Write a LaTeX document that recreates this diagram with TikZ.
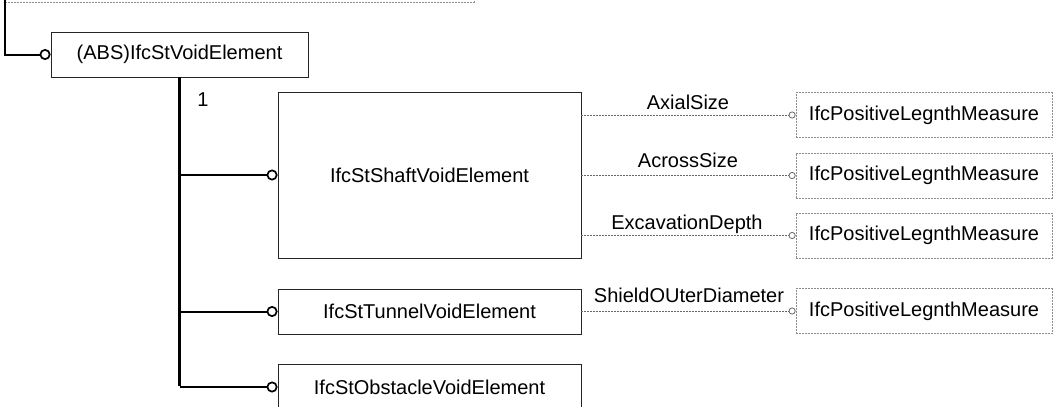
\documentclass[tikz,border=0pt]{standalone}
\usepackage{fontspec}
\setmainfont{Liberation Sans}
\usetikzlibrary{arrows.meta}

\tikzset{
  entity/.style={draw=black!85, line width=0.9pt, fill=white, inner sep=0pt,
    font=\fontsize{20}{24}\selectfont},
  typebox/.style={draw=black!45, line width=0.8pt, dash pattern=on 2pt off 1pt,
    inner sep=0pt, minimum width=256pt, minimum height=45pt,
    font=\fontsize{20}{24}\selectfont},
  subtype/.style={line width=2pt, -{Circle[open, length=11pt, width=11pt, line width=1.7pt]}},
  attr/.style={draw=black!60, line width=0.8pt, dash pattern=on 2pt off 1pt,
    -{Circle[open, length=7pt, width=7pt, line width=0.8pt]}},
  attrlabel/.style={font=\fontsize{20}{24}\selectfont, anchor=base, inner sep=0pt},
}

\begin{document}
\begin{tikzpicture}[x=1pt, y=-1pt]
  \useasboundingbox (0,0) rectangle (1053,407);

  % supertype (only its lower edge lies in view)
  \node[typebox, minimum width=469pt, minimum height=44pt] (parent) at (239.5,-20) {};

  % abstract void element
  \node[entity, minimum width=257pt, minimum height=45pt] (abs) at (179.5,54.5) {(ABS)IfcStVoidElement};

  % subtypes
  \node[entity, minimum width=303pt, minimum height=166pt] (shaft) at (429.5,175) {IfcStShaftVoidElement};
  \node[entity, minimum width=303pt, minimum height=45pt] (tunnel) at (429.5,311.5) {IfcStTunnelVoidElement};
  \node[entity, minimum width=303pt, minimum height=46pt] (obstacle) at (429.5,387) {IfcStObstacleVoidElement};

  % attribute types
  \node[typebox] (m1) at (924,115) {IfcPositiveLegnthMeasure};
  \node[typebox] (m2) at (924,175.5) {IfcPositiveLegnthMeasure};
  \node[typebox] (m3) at (924,235.5) {IfcPositiveLegnthMeasure};
  \node[typebox] (m4) at (924,311) {IfcPositiveLegnthMeasure};

  % inheritance links
  \draw[subtype] ([yshift=2pt]parent.south west) |- (abs.west);
  \draw[line width=2.4pt] (abs.south) -- ([yshift=1.2pt]abs.south |- obstacle.west);
  \draw[subtype] (abs.south |- shaft.west) -- (shaft.west);
  \draw[subtype] (abs.south |- tunnel.west) -- (tunnel.west);
  \draw[subtype] (abs.south |- obstacle.west) -- (obstacle.west);
  \node[font=\fontsize{20}{24}\selectfont, inner sep=0pt] (card) at (203,100) {1};

  % attribute links
  \draw[attr] (shaft.east |- m1.west) -- (m1.west);
  \draw[attr] (shaft.east |- m2.west) -- (m2.west);
  \draw[attr] (shaft.east |- m3.west) -- (m3.west);
  \draw[attr] (tunnel.east |- m4.west) -- (m4.west);

  \node[attrlabel] (l1) at (688,109) {AxialSize};
  \node[attrlabel] (l2) at (688,167) {AcrossSize};
  \node[attrlabel] (l3) at (687,229) {ExcavationDepth};
  \node[attrlabel] (l4) at (689,302) {ShieldOUterDiameter};
\end{tikzpicture}
\end{document}
